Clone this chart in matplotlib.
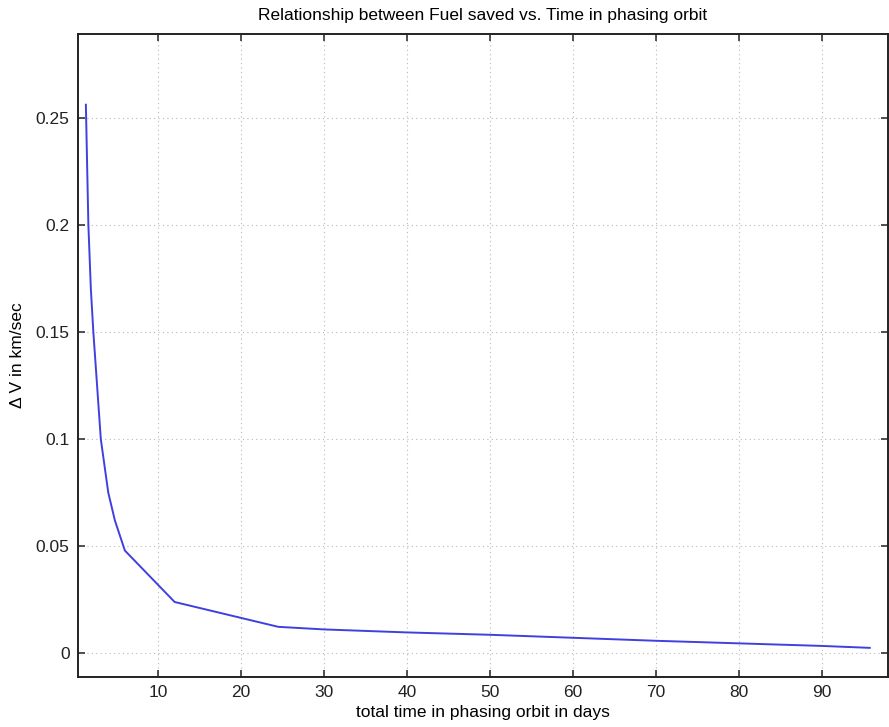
import matplotlib
matplotlib.use("Agg")
import matplotlib.pyplot as plt

plt.rcParams['font.family'] = ['Liberation Sans', 'DejaVu Sans']

days = [1.3, 1.6, 1.9, 2.2, 3.1, 4.0, 4.8, 6.0, 12.0, 24.5, 30, 40, 50, 60, 70, 80, 90, 95.8]
delta_v = [0.256, 0.200, 0.170, 0.150, 0.100, 0.075, 0.062, 0.048, 0.024, 0.0124,
           0.0112, 0.0098, 0.0087, 0.0073, 0.0059, 0.0047, 0.0035, 0.0026]
x_ticks = [10, 20, 30, 40, 50, 60, 70, 80, 90]
y_ticks = [0, 0.05, 0.1, 0.15, 0.2, 0.25]
y_tick_labels = ['0', '0.05', '0.1', '0.15', '0.2', '0.25']

fig = plt.figure(figsize=(8.89, 7.27), dpi=100)
ax = fig.add_axes([78/889, 50/727, 810/889, 643/727])
ax.plot(days, delta_v, color=(0.25, 0.25, 0.88), linewidth=1.4)
ax.set_xlim(0.35, 98.0)
ax.set_ylim(-0.011, 0.289)
ax.set_xticks(x_ticks)
ax.set_yticks(y_ticks)
ax.set_yticklabels(y_tick_labels)
ax.grid(True, linestyle=(0, (1, 3)), color='#b8b8b8', linewidth=0.8)
ax.tick_params(direction='in', top=True, right=True, length=5, width=1.1,
               labelsize=12.5, pad=6, colors='#222222')
for s in ax.spines.values():
    s.set_linewidth(1.4)
    s.set_color('#222222')
ax.set_title('Relationship between Fuel saved vs. Time in phasing orbit', fontsize=12.5, pad=10)
ax.set_xlabel('total time in phasing orbit in days', fontsize=12.5, labelpad=3)
ax.set_ylabel('Δ V in km/sec', fontsize=12.5, labelpad=8)
fig.savefig('out.png', dpi=100)
